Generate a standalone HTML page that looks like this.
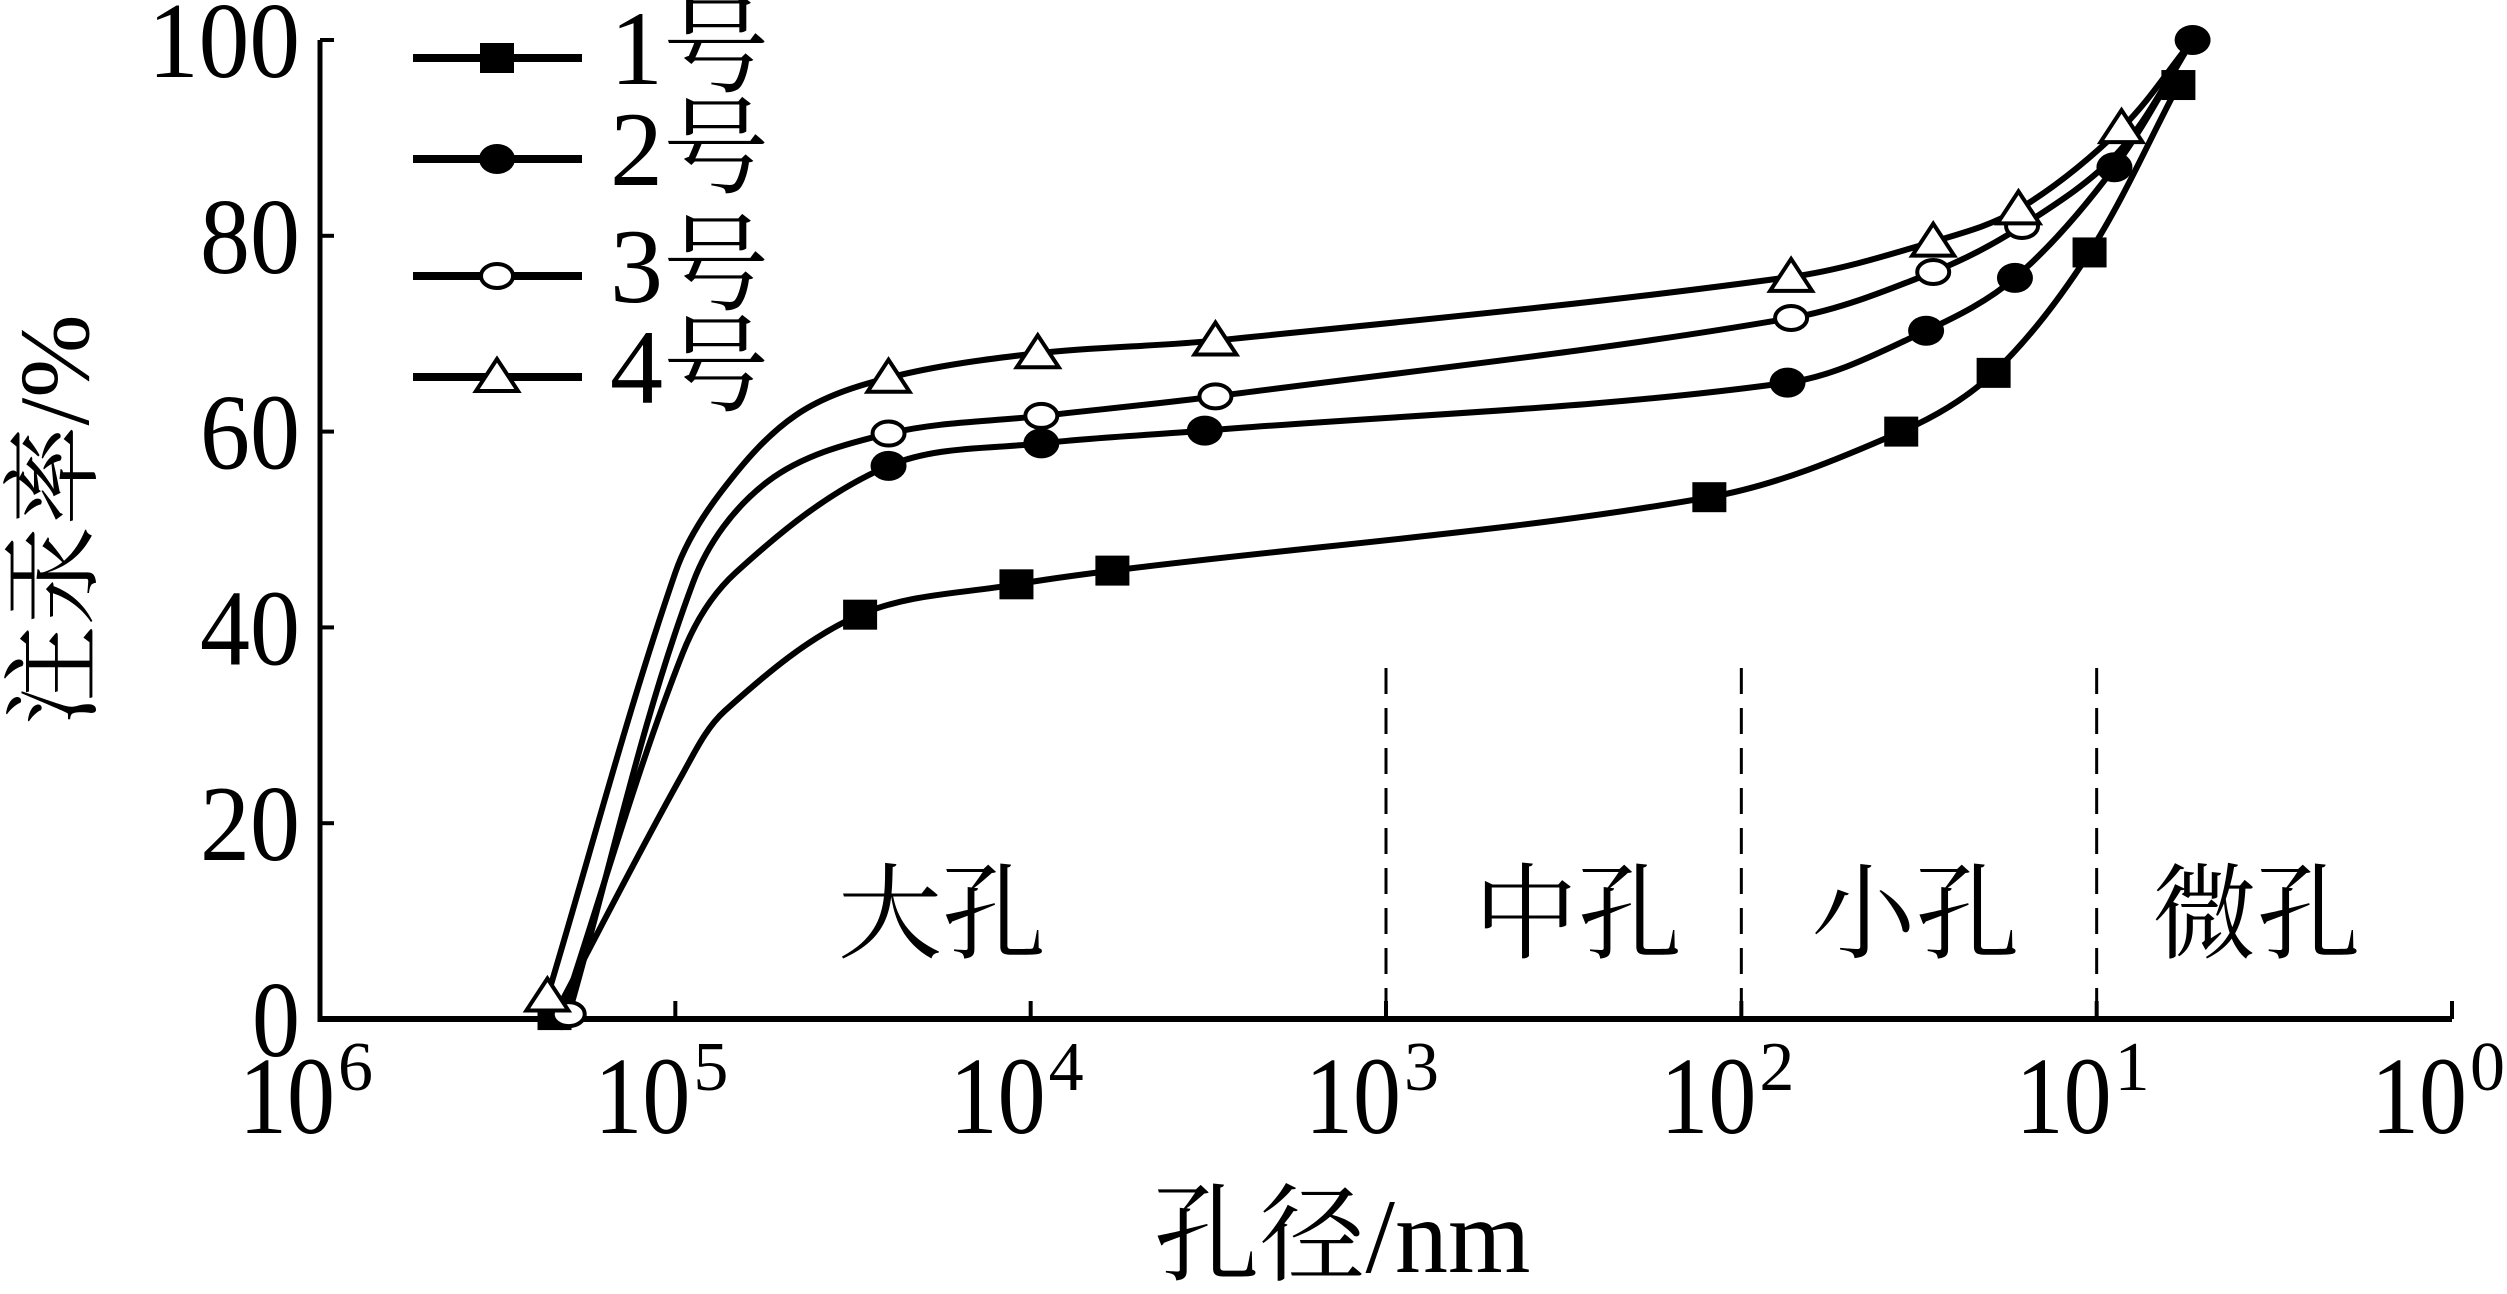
<!DOCTYPE html>
<html><head><meta charset="utf-8">
<style>
html,body{margin:0;padding:0;background:#fff;}
svg{display:block;}
text{font-family:"Liberation Serif","Noto Serif CJK SC","Noto Sans CJK SC",serif;fill:#000;}
</style></head>
<body>
<svg id="chart" width="2507" height="1294" viewBox="0 0 2507 1294" xmlns="http://www.w3.org/2000/svg">
<g id="axes"></g>
<g id="series"></g>
<g id="legend"></g>
</svg>
<script>
// x values are log10(pore diameter / nm); axis reversed (10^6 left, 10^0 right)
const xTicks = [6,5,4,3,2,1,0];
const yTicks = [0,20,40,60,80,100];
const seriesNames = ["1号","2号","3号","4号"];
const dividers = [3,2,1];
const regionLabels = ["大孔","中孔","小孔","微孔"];
const regionPos = [4.25,2.46,1.51,0.55];

const s1x = [5.34,4.98,4.86,4.48,4.04,3.77,2.09,1.55,1.29,1.02,0.77];
const s1y = [0.4,25.0,31.5,41.3,44.4,45.8,53.3,60.0,66.0,78.3,95.4];
const s1m = [1,0,0,1,1,1,1,1,1,1,1];
const s2x = [5.32,4.98,4.83,4.40,3.97,3.51,1.87,1.48,1.23,0.95,0.73];
const s2y = [0.4,37.3,45.6,56.5,58.8,60.1,65.0,70.3,75.7,87.0,100];
const s2m = [1,0,0,1,1,1,1,1,1,1,1];
const s3x = [5.30,4.95,4.74,4.40,3.97,3.48,1.86,1.46,1.21,0.94,0.73];
const s3y = [0.5,44.6,54.9,59.8,61.6,63.6,71.6,76.3,81.0,88.5,100];
const s3m = [1,0,0,1,1,1,1,1,1,0,0];
const s4x = [5.36,5.00,4.87,4.66,4.40,3.98,3.48,1.86,1.46,1.22,0.93,0.73];
const s4y = [2.3,45.6,53.9,61.7,65.5,68.0,69.3,75.8,79.4,82.7,91.0,100];
const s4m = [1,0,0,0,1,1,1,1,1,1,1,0];

const NS="http://www.w3.org/2000/svg";
const X0=320, X1=2452, Y0=1019, Y1=40;
function xs(v){return X0+(6-v)*(X1-X0)/6;}
function ys(v){return Y0-v*(Y0-Y1)/100;}
function mk(tag,attrs,parent){const e=document.createElementNS(NS,tag);for(const k in attrs)e.setAttribute(k,attrs[k]);parent.appendChild(e);return e;}

const axes=document.getElementById('axes');
let el;
el=mk('line',{x1:X0,y1:Y0,x2:X1,y2:Y0,stroke:'#000','stroke-width':6},axes);


el=mk('line',{x1:X0,y1:Y0+3,x2:X0,y2:Y1,stroke:'#000','stroke-width':5},axes);


el=mk('line',{x1:X0,y1:Y1,x2:X0+12,y2:Y1,stroke:'#000','stroke-width':4},axes);



xTicks.forEach(t=>{
  const x=xs(t);
  const tk=mk('line',{x1:x,y1:Y0,x2:x,y2:Y0-18,stroke:'#000','stroke-width':4},axes);
  
  
  const tx=mk('text',{x:x-33,y:1133,'font-size':110,'text-anchor':'middle','textLength':96,'lengthAdjust':'spacingAndGlyphs'},axes);
  
  
  tx.textContent='10';
  const sp=mk('text',{x:x+18,y:1090,'font-size':70,'text-anchor':'start'},axes);
  
  
  sp.textContent=String(t);
});
yTicks.forEach(t=>{
  const y=ys(t);
  const tk=mk('line',{x1:X0,y1:y,x2:X0+14,y2:y,stroke:'#000','stroke-width':4},axes);
  
  
  const tx=mk('text',{x:300,y:y+37,'font-size':108,'text-anchor':'end','textLength':t===100?152:(t===0?48:100),'lengthAdjust':'spacingAndGlyphs'},axes);
  
  
  tx.textContent=String(t);
});
dividers.forEach(d=>{
  const x=xs(d);
  const ln=mk('line',{x1:x,y1:668,x2:x,y2:Y0,stroke:'#000','stroke-width':3,'stroke-dasharray':'26,14'},axes);
  
  
});
regionLabels.forEach((r,i)=>{
  const tx=mk('text',{x:xs(regionPos[i]),y:950,'font-size':104,'text-anchor':'middle'},axes);
  
  
  tx.textContent=r;
});
el=mk('text',{x:1342,y:1272,'font-size':106,'text-anchor':'middle'},axes);


el.textContent='孔径/nm';
el=mk('text',{x:0,y:0,'font-size':100,'text-anchor':'middle',transform:'translate(88,520) rotate(-90)'},axes);


el.textContent='注汞率/%';

function pathFrom(px,py){
  const P=px.map((x,i)=>[xs(x),ys(py[i])]);
  const n=P.length;
  const T=P.map((p,i)=>{
    if(i===0||i===n-1){const a=P[i===0?0:i-1],b=P[i===0?1:i];return [b[0]-a[0],b[1]-a[1],1];}
    const a=P[i-1],b=P[i+1];
    const d1=Math.hypot(p[0]-a[0],p[1]-a[1]),d2=Math.hypot(b[0]-p[0],b[1]-p[1]);
    const dx=b[0]-a[0],dy=b[1]-a[1],L=Math.hypot(dx,dy)||1;
    return [dx/L,dy/L,0];
  });
  let d='M'+P[0][0]+','+P[0][1];
  for(let i=0;i<n-1;i++){
    const p1=P[i],p2=P[i+1];
    const seg=Math.hypot(p2[0]-p1[0],p2[1]-p1[1]);
    const t1=T[i],t2=T[i+1];
    const k=seg/3;
    const c1=t1[2]?[p1[0]+t1[0]/3,p1[1]+t1[1]/3]:[p1[0]+t1[0]*k,p1[1]+t1[1]*k];
    const c2=t2[2]?[p2[0]-t2[0]/3,p2[1]-t2[1]/3]:[p2[0]-t2[0]*k,p2[1]-t2[1]*k];
    d+=' C'+c1[0]+','+c1[1]+' '+c2[0]+','+c2[1]+' '+p2[0]+','+p2[1];
  }
  return d;
}
function marker(type,x,y,parent){
  let e;
  if(type===0) e=mk('rect',{x:x-17,y:y-15,width:34,height:30,fill:'#000'},parent);
  else if(type===1) e=mk('ellipse',{cx:x,cy:y,rx:18,ry:15,fill:'#000'},parent);
  else if(type===2) e=mk('ellipse',{cx:x,cy:y,rx:16,ry:12,fill:'#fff',stroke:'#000','stroke-width':4},parent);
  else e=mk('polygon',{points:(x)+','+(y-18)+' '+(x-21)+','+(y+14)+' '+(x+21)+','+(y+14),fill:'#fff',stroke:'#000','stroke-width':4},parent);
  return e;
}
const SX=[s1x,s2x,s3x,s4x], SY=[s1y,s2y,s3y,s4y], SM=[s1m,s2m,s3m,s4m];
const sg=document.getElementById('series');
SX.forEach((xa,si)=>{
  const g=mk('g',{},sg);
  
  
  const p=mk('path',{d:pathFrom(xa,SY[si]),fill:'none',stroke:'#000','stroke-width':6,'stroke-linejoin':'round'},g);
  
  
  xa.forEach((x,i)=>{
    if(!SM[si][i]) return;
    const m=marker(si,xs(x),ys(SY[si][i]),g);
    
    
  });
});
const lg=document.getElementById('legend');
const legY=[58,159,276,377];
seriesNames.forEach((n,i)=>{
  const g=mk('g',{},lg);
  
  
  const ln=mk('line',{x1:413,y1:legY[i],x2:582,y2:legY[i],stroke:'#000','stroke-width':8},g);
  
  
  const m=marker(i,497,legY[i],g);
  
  
  const t=mk('text',{x:610,y:legY[i]+26,'font-size':106},g);
  
  
  t.textContent=n;
});
</script>
</body></html>
